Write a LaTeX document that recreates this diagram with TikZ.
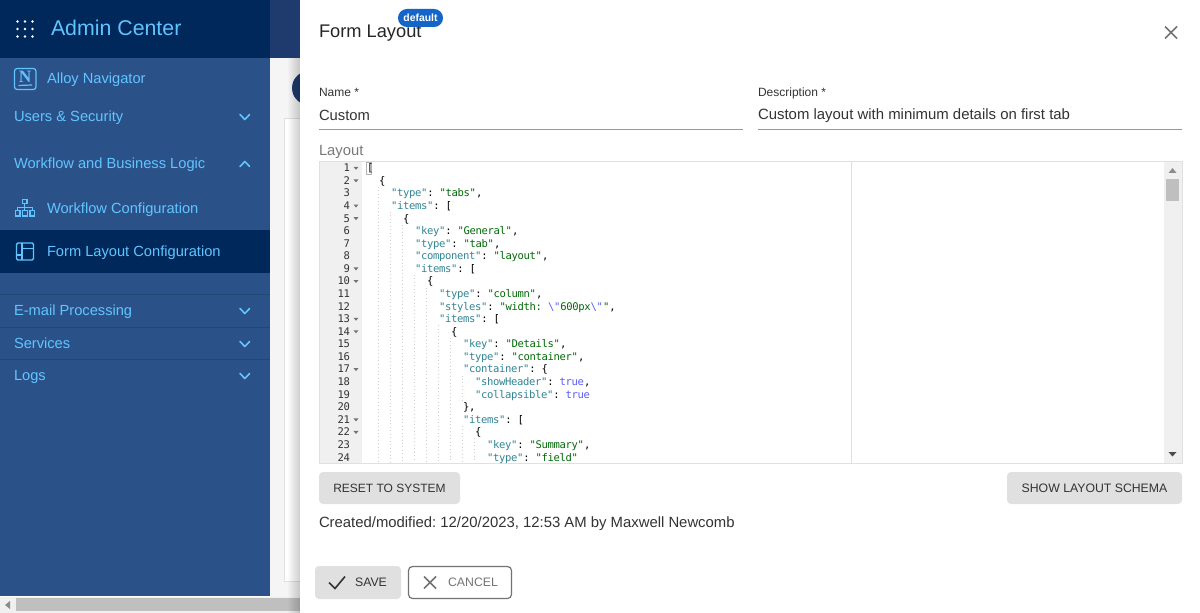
\documentclass[tikz,border=0pt]{standalone}
\usepackage{fontspec}
\setmainfont{Liberation Sans}
\newfontfamily\codefont[LetterSpace=-3.24]{DejaVu Sans Mono}
\frenchspacing
\definecolor{navy}{HTML}{00285A}
\definecolor{side}{HTML}{2B5288}
\definecolor{sidetxt}{HTML}{62C4FF}
\definecolor{hdrext}{HTML}{1F3B6E}
\definecolor{page}{HTML}{F5F5F5}
\definecolor{sep}{HTML}{234877}
\definecolor{ink}{HTML}{333333}
\definecolor{btn}{HTML}{E0E0E0}
\definecolor{ckey}{HTML}{318495}
\definecolor{cstr}{HTML}{036A07}
\definecolor{cbool}{HTML}{585CF6}
\definecolor{gutter}{HTML}{F0F0F0}
\definecolor{guide}{HTML}{D0D0D0}
\definecolor{badgeblue}{HTML}{1565C8}
\newcommand\CKey[1]{\textcolor{ckey}{#1}}
\newcommand\CStr[1]{\textcolor{cstr}{#1}}
\newcommand\CBoo[1]{\textcolor{cbool}{#1}}
\newcommand\CPl[1]{\textcolor{black}{#1}}
\tikzset{
  x=0.75pt,y=-0.75pt,
  every node/.style={inner sep=0pt,outer sep=0pt},
  navitem/.style={anchor=base west,text=sidetxt,font=\fontsize{11pt}{12pt}\selectfont},
  chev/.style={draw=sidetxt,line width=1.2pt,line cap=round,line join=round},
  navicon/.style={draw=sidetxt,line width=0.8pt},
  sepline/.style={draw=sep,line width=0.75pt},
  uilabel/.style={anchor=base west,text=ink,font=\fontsize{11.1pt}{13pt}\selectfont},
  smalllabel/.style={anchor=base west,text=ink,font=\fontsize{9pt}{11pt}\selectfont},
  graybtn/.style={fill=btn,rounded corners=3pt,draw=none},
  btntext/.style={anchor=center,text=ink,font=\fontsize{9.2pt}{11pt}\selectfont},
  codeln/.style={anchor=base west,font=\codefont\fontsize{7.9pt}{9pt}\selectfont},
  lnum/.style={anchor=base east,text=ink,font=\codefont\fontsize{7.9pt}{9pt}\selectfont},
  foldtip/.style={fill=gray!90!black,draw=none},
  guideline/.style={draw=guide,line width=0.6pt,dotted},
}
\newcommand\codeline[3]{\node[codeln] (code#1) at ({367+6*#2},{168+12.58*(#1-1)+3.7}) {#3};}
\begin{document}
\begin{tikzpicture}
\useasboundingbox (0,0) rectangle (1200,613);
% page background
\fill[white] (0,0) rectangle (1200,613);
\fill[page] (270,58) rectangle (300,597);
\fill[hdrext] (270,0) rectangle (300,58);
\filldraw[fill=white,draw=btn,line width=0.75pt] (284,119) rectangle (320,581);
\fill[hdrext] (309,88) circle (17);
% bottom scrollbar
\fill[gutter] (0,597) rectangle (300,613);
\fill[gray!50] (16,598) rectangle (300,611);
\fill[gray!90] (5,605) -- (10,601) -- (10,609) -- cycle;
% sidebar
\fill[side] (0,58) rectangle (270,596);
\fill[navy] (0,0) rectangle (270,58);
\fill[navy] (0,230) rectangle (270,273);
\foreach \dx in {17.5,25,32.5} \foreach \dy in {21.5,29,36.5} \fill[white] (\dx,\dy) circle (1.3);
\node[anchor=base west,text=sidetxt,font=\fontsize{16pt}{20pt}\selectfont] (admin) at (51,36) {Admin Center};
% N icon
\draw[navicon,rounded corners=2pt,line width=0.9pt] (14.5,68.5) rectangle (36,89.5);
\node[anchor=center,text=sidetxt,font=\fontspec{Liberation Serif}\bfseries\fontsize{13pt}{13pt}\selectfont] (nicon) at (25.2,77) {N};
\draw[sidetxt,line width=0.9pt] (18.5,85.5) -- (32,85);
\node[navitem] (n1) at (47,83.5) {Alloy Navigator};
\node[navitem] (n2) at (14,121.5) {Users \& Security};
\node[navitem] (n3) at (14,168.5) {Workflow and Business Logic};
\node[navitem] (n4) at (47,213.5) {Workflow Configuration};
\node[navitem] (n5) at (47,256.5) {Form Layout Configuration};
\node[navitem] (n6) at (14,315) {E-mail Processing};
\node[navitem] (n7) at (14,348) {Services};
\node[navitem] (n8) at (14,380) {Logs};
\foreach \cy in {117,311,344,376}
  \draw[chev] (240,{\cy-2.5}) -- (244.8,{\cy+2.5}) -- (249.6,{\cy-2.5});
\draw[chev] (240,{164+2.5}) -- (244.8,{164-2.5}) -- (249.6,{164+2.5});
% workflow icon
\draw[navicon] (22.5,199.5) rectangle (27,203.5);
\draw[navicon] (24.8,203.5) -- (24.8,210) (17.5,210) -- (17.5,207.5) -- (32.5,207.5) -- (32.5,210);
\draw[navicon] (15.5,210.5) rectangle (20,216) (22.7,210.5) rectangle (27.2,216) (30,210.5) rectangle (34.5,216);
% layout icon
\draw[navicon,line width=1pt,rounded corners=1pt] (16.5,243) rectangle (33.5,260);
\draw[navicon,line width=1pt] (22,243) -- (22,260) (22,248.5) -- (33.5,248.5) (16.5,255) -- (22,255);
\draw[sepline] (0,294.5) -- (270,294.5) (0,327.5) -- (270,327.5) (0,359.5) -- (270,359.5);
% dialog shadow and sheet
\foreach \i in {0,...,12}
  \fill[black,opacity={0.015*\i}] ({287+\i},58) rectangle ({288+\i},613);
\fill[white] (300,0) rectangle (1200,613);
\node[anchor=base west,text=black!85,font=\fontsize{13.7pt}{16pt}\selectfont] (title) at (319,38) {Form Layout};
\fill[badgeblue,rounded corners=6.7pt] (398,9) rectangle (443,27);
\node[anchor=center,text=white,font=\bfseries\fontsize{7.8pt}{9pt}\selectfont] (badge) at (420.5,17.5) {default};
\draw[gray!90!black,line width=1.1pt] (1165,26.5) -- (1177,38.5) (1177,26.5) -- (1165,38.5);
\node[smalllabel] (namel) at (319,97) {Name *};
\node[uilabel] (namev) at (319,120.5) {Custom};
\draw[gray!80,line width=0.75pt] (319,129.5) -- (743,129.5);
\node[smalllabel] (descl) at (758,97) {Description *};
\node[uilabel,font=\fontsize{11.2pt}{13pt}\selectfont] (descv) at (758,119.5) {Custom layout with minimum details on first tab};
\draw[gray!80,line width=0.75pt] (758,129.5) -- (1182,129.5);
\node[uilabel,text=gray!95!black] (layoutl) at (319,155.5) {Layout};
% editor
\fill[gutter] (319,161) rectangle (362,463);
\fill[gutter] (1164,161) rectangle (1182,463);
\draw[btn,line width=0.75pt] (851.5,161) -- (851.5,463);
\draw[btn,line width=0.75pt] (319,161.5) rectangle (1182,463);
\fill[gray!50] (1166,179) rectangle (1179,201);
\fill[gray!90] (1172.5,168) -- (1168.5,173) -- (1176.5,173) -- cycle;
\fill[black!70] (1172.5,456.5) -- (1168.5,452) -- (1176.5,452) -- cycle;
\draw[gray!60,line width=0.5pt] (366,162.5) rectangle (371.5,174);
\foreach \c/\a/\b in {2/3/24,4/5/24,6/6/24,8/10/24,10/11/24,12/14/24,14/15/24,16/18/19,16/22/24,18/23/24}
  \draw[guideline] ({367+6*\c-0.5},{168+12.58*(\a-1)-6.3}) -- ({367+6*\c-0.5},{min(462,168+12.58*(\b-1)+6.3)});
\foreach \n in {1,...,24}
  \node[lnum] (ln\n) at (350,{168+12.58*(\n-1)+3.7}) {\n};
\foreach \n in {1,2,4,5,9,10,13,14,17,21,22}
  \fill[foldtip] (353.5,{168+12.58*(\n-1)-1.2}) -- (358.5,{168+12.58*(\n-1)-1.2}) -- (356,{168+12.58*(\n-1)+1.8}) -- cycle;
\codeline{1}{0}{\CPl{[}}
\codeline{2}{2}{\CPl{\{}}
\codeline{3}{4}{\CKey{"type"}\CPl{: }\CStr{"tabs"}\CPl{,}}
\codeline{4}{4}{\CKey{"items"}\CPl{: [}}
\codeline{5}{6}{\CPl{\{}}
\codeline{6}{8}{\CKey{"key"}\CPl{: }\CStr{"General"}\CPl{,}}
\codeline{7}{8}{\CKey{"type"}\CPl{: }\CStr{"tab"}\CPl{,}}
\codeline{8}{8}{\CKey{"component"}\CPl{: }\CStr{"layout"}\CPl{,}}
\codeline{9}{8}{\CKey{"items"}\CPl{: [}}
\codeline{10}{10}{\CPl{\{}}
\codeline{11}{12}{\CKey{"type"}\CPl{: }\CStr{"column"}\CPl{,}}
\codeline{12}{12}{\CKey{"styles"}\CPl{: }\CStr{"width: }\CBoo{\textbackslash"}\CStr{600px}\CBoo{\textbackslash"}\CStr{"}\CPl{,}}
\codeline{13}{12}{\CKey{"items"}\CPl{: [}}
\codeline{14}{14}{\CPl{\{}}
\codeline{15}{16}{\CKey{"key"}\CPl{: }\CStr{"Details"}\CPl{,}}
\codeline{16}{16}{\CKey{"type"}\CPl{: }\CStr{"container"}\CPl{,}}
\codeline{17}{16}{\CKey{"container"}\CPl{: \{}}
\codeline{18}{18}{\CKey{"showHeader"}\CPl{: }\CBoo{true}\CPl{,}}
\codeline{19}{18}{\CKey{"collapsible"}\CPl{: }\CBoo{true}}
\codeline{20}{16}{\CPl{\},}}
\codeline{21}{16}{\CKey{"items"}\CPl{: [}}
\codeline{22}{18}{\CPl{\{}}
\codeline{23}{20}{\CKey{"key"}\CPl{: }\CStr{"Summary"}\CPl{,}}
\codeline{24}{20}{\CKey{"type"}\CPl{: }\CStr{"field"}}
% buttons
\draw[graybtn] (319,472) rectangle (460,504);
\node[btntext,font=\fontsize{9pt}{11pt}\selectfont] (reset) at (389.5,488) {RESET TO SYSTEM};
\draw[graybtn] (1007,472) rectangle (1182,504);
\node[btntext] (schema) at (1094.5,488) {SHOW LAYOUT SCHEMA};
\node[uilabel,font=\fontsize{11.15pt}{13pt}\selectfont] (created) at (319,527) {Created/modified: 12/20/2023, 12:53 AM by Maxwell Newcomb};
\draw[graybtn] (315,566) rectangle (401,599);
\draw[ink,line width=1.2pt] (329,582.5) -- (335,588.5) -- (345,576.5);
\node[btntext] (save) at (371,582) {SAVE};
\draw[gray!90!black,line width=0.9pt,fill=white,rounded corners=3pt] (408.5,566.5) rectangle (511.5,598.5);
\draw[gray!90!black,line width=1.2pt] (424,576.5) -- (436,588.5) (436,576.5) -- (424,588.5);
\node[btntext,text=gray!90!black] (cancel) at (473,582) {CANCEL};
\end{tikzpicture}
\end{document}
